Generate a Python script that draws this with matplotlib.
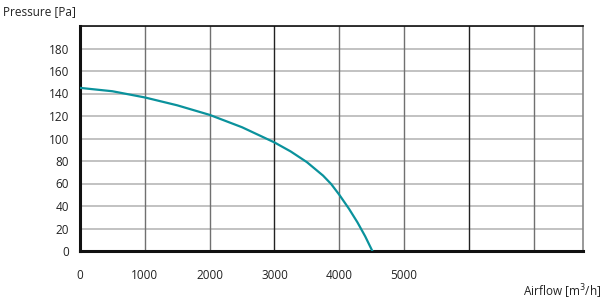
import matplotlib
matplotlib.use("Agg")
import matplotlib.pyplot as plt

airflow = [0, 500, 1000, 1500, 2000, 2500, 3000, 3250, 3500, 3750, 3875, 4000, 4150, 4280, 4400, 4510]
pressure = [145, 142, 136.5, 129.5, 121, 110, 96.5, 88.5, 79, 67, 59.5, 50, 37.5, 25.5, 13, 0]
x_ticks = [0, 1000, 2000, 3000, 4000, 5000]
y_ticks = [0, 20, 40, 60, 80, 100, 120, 140, 160, 180]

plt.rcParams['font.family'] = ['Open Sans', 'DejaVu Sans']
fig = plt.figure(figsize=(6.03, 3.03), dpi=100)
ax = fig.add_axes([80/603, 1-251/303, (583-80)/603, (251-26)/303])
ax.set_xlim(0, 7760)
ax.set_ylim(0, 200)

for v in range(20, 201, 20):
    ax.axhline(v, color='#bdbdbd', lw=1.3, zorder=1)
for v in range(1000, 8000, 1000):
    c = '#222222' if v in (3000, 6000) else '#707070'
    ax.axvline(v, color=c, lw=1.0, zorder=1)

ax.plot(airflow, pressure, color='#0a929c', lw=1.6, zorder=3, solid_joinstyle='round')

ax.set_xticks(x_ticks)
ax.set_yticks(y_ticks)
ax.tick_params(length=0, labelsize=8.5, colors='#222222')
ax.tick_params(axis='x', pad=13)
ax.tick_params(axis='y', pad=8)
for s in ['left', 'bottom']:
    ax.spines[s].set_linewidth(2.2)
    ax.spines[s].set_color('#111111')
ax.spines['top'].set_linewidth(1.2)
ax.spines['top'].set_color('#111111')
ax.spines['right'].set_linewidth(1.2)
ax.spines['right'].set_color('#888888')

fig.text(3/603, 1-12/303, 'Pressure [Pa]', fontsize=8.5, va='center', ha='left', color='#222222')
fig.text(601/603, 1-292/303, 'Airflow [m$^3$/h]', fontsize=8.5, va='center', ha='right', color='#222222')

fig.savefig('out.png', dpi=100)
